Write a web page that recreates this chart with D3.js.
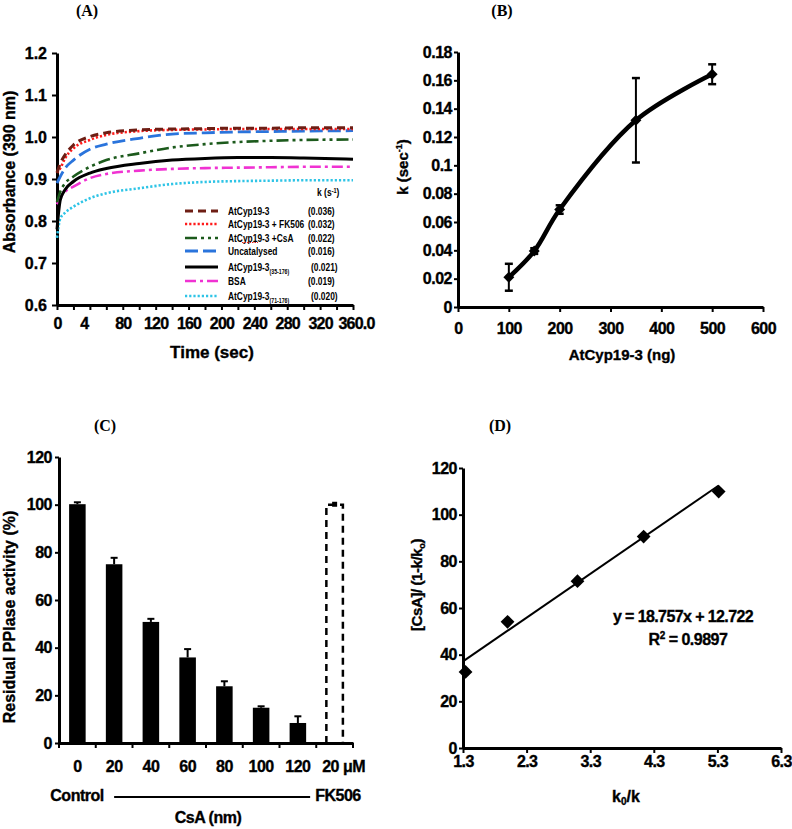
<!DOCTYPE html>
<html><head><meta charset="utf-8">
<script src="https://cdn.jsdelivr.net/npm/d3@7"></script>
<style>
body{margin:0;background:#fff}
text{font-family:"Liberation Sans",Arial,sans-serif;font-weight:bold;fill:#000}
</style>
</head><body><script>
// ---------- Panel A data ----------
const timeA = [0, 4, 10, 20, 40, 60, 100, 140, 180, 220, 260, 300, 360];
const aCyp      = [0.915,0.937,0.958,0.981,1.001,1.010,1.017,1.019,1.020,1.021,1.021,1.022,1.022];
const aCypFK    = [0.915,0.926,0.950,0.973,0.993,1.005,1.014,1.017,1.018,1.019,1.019,1.019,1.019];
const aCypCsA   = [0.845,0.870,0.890,0.906,0.929,0.945,0.961,0.975,0.983,0.988,0.991,0.993,0.994];
const aUncat    = [0.890,0.906,0.926,0.945,0.971,0.983,0.997,1.007,1.010,1.012,1.013,1.014,1.015];
const aCyp35    = [0.780,0.850,0.875,0.894,0.914,0.925,0.937,0.945,0.949,0.951,0.951,0.950,0.947];
const aBSA      = [0.840,0.855,0.870,0.882,0.902,0.912,0.920,0.924,0.926,0.927,0.928,0.929,0.929];
const aCyp71    = [0.760,0.806,0.820,0.834,0.854,0.866,0.878,0.888,0.893,0.895,0.896,0.897,0.897];
const legendMainA = ["AtCyp19-3","AtCyp19-3 + FK506","AtCyp19-3 +CsA","Uncatalysed","AtCyp19-3","BSA","AtCyp19-3"];
const legendSubA  = ["","","","","(35-176)","","(71-176)"];
const legendKA    = ["(0.036)","(0.032)","(0.022)","(0.016)","(0.021)","(0.019)","(0.020)"];
const yTicksA = [0.6,0.7,0.8,0.9,1.0,1.1,1.2];
const xTicksA = [0,20,40,60,80,100,120,140,160,180,200,220,240,260,280,300,320,340,360];
const xLabelsA = {0:"0",40:"4",80:"80",120:"120",160:"160",200:"200",240:"240",280:"280",320:"320",360:"360.0"};

// ---------- Panel B data ----------
const ngB  = [100,150,200,350,500];
const kB   = [0.021,0.0395,0.0688,0.1318,0.1643];
const errB = [0.0095,0.002,0.003,0.0298,0.007];
const yTicksB = [0,0.02,0.04,0.06,0.08,0.1,0.12,0.14,0.16,0.18];
const xTicksB = [0,100,200,300,400,500,600];

// ---------- Panel C data ----------
const catsC  = ["0","20","40","60","80","100","120","20 μM"];
const valsC  = [100.2,75.0,50.8,35.9,23.8,14.8,8.4,100];
const errsC  = [0.8,2.7,1.3,3.5,2.1,0.6,2.8,0.8];
const yTicksC = [0,20,40,60,80,100,120];

// ---------- Panel D data ----------
const xD = [1.34,2.0,3.1,4.14,5.32];
const yD = [32.6,54.1,71.5,90.6,109.9];
const slopeD = 18.757, interceptD = 12.722;
const fitRangeD = [1.3,5.32];
const xTicksD = [1.3,2.3,3.3,4.3,5.3,6.3];
const yTicksD = [0,20,40,60,80,100,120];

const svg = d3.select("body").append("svg").attr("width",792).attr("height",829);
const HEAVY = 0.35;

function styleAxis(g, fs, ls){
  g.select(".domain").attr("stroke","#000").attr("stroke-width",3);
  g.selectAll(".tick line").attr("stroke","#000").attr("stroke-width",2);
  g.selectAll(".tick text").attr("font-size",fs||16).attr("fill","#000")
    .attr("stroke","#000").attr("stroke-width",HEAVY)
    .attr("letter-spacing",ls||0)
    .attr("font-family",'"Liberation Sans",Arial,sans-serif').attr("font-weight","bold");
}
function heavy(sel){ return sel.attr("stroke","#000").attr("stroke-width",HEAVY); }
function panelLabel(t,x,y){
  svg.append("text").attr("x",x).attr("y",y).attr("text-anchor","middle")
    .attr("font-size",16).style("font-family",'"Liberation Serif","Times New Roman",serif').text(t);
}
function rotLabel(t,x,y,fs){
  return heavy(svg.append("text").attr("transform",`translate(${x},${y}) rotate(-90)`)
    .attr("text-anchor","middle").attr("font-size",fs).text(t));
}

// ===================== Panel A =====================
const xA = d3.scaleLinear().domain([0,360]).range([57,353]);
const yA = d3.scaleLinear().domain([0.6,1.2]).range([305,53]);
panelLabel("(A)",87,16);
const gAx = svg.append("g").attr("transform","translate(0,305)")
  .call(d3.axisBottom(xA).tickValues(xTicksA).tickSize(5).tickSizeOuter(0).tickPadding(8)
    .tickFormat(d=>xLabelsA[d]||""));
styleAxis(gAx,16,-0.8);
gAx.selectAll(".tick text").filter(d=>d===40).attr("dx",-6);
gAx.selectAll(".tick text").filter(d=>d===360).attr("dx",3);
const gAy = svg.append("g").attr("transform","translate(57,0)")
  .call(d3.axisLeft(yA).tickValues(yTicksA).tickSize(5).tickSizeOuter(0).tickPadding(5)
    .tickFormat(d3.format(".1f")));
styleAxis(gAy);
rotLabel("Absorbance (390 nm)",15,172,16);
heavy(svg.append("text").attr("x",212).attr("y",358).attr("text-anchor","middle").attr("font-size",17).text("Time (sec)"));

const seriesA = [
  {v:aCyp71, c:"#2EC4E6", d:"2.2,2", w:2.6},
  {v:aBSA,   c:"#F032D2", d:"11,4,3,4", w:2.6},
  {v:aCyp35, c:"#000000", d:null, w:3},
  {v:aCypCsA,c:"#1C5A1C", d:"12,4,3,4,3,4", w:2.6},
  {v:aUncat, c:"#2A74DC", d:"13,5", w:2.8},
  {v:aCypFK, c:"#FF1A1A", d:"2.2,2", w:2.6},
  {v:aCyp,   c:"#6E1E14", d:"8,5", w:3}
];
const lineA = d3.line().x((d,i)=>xA(timeA[i])).y(d=>yA(d)).curve(d3.curveMonotoneX);
seriesA.forEach(s=>{
  svg.append("path").attr("d",lineA(s.v)).attr("fill","none").attr("stroke",s.c)
    .attr("stroke-width",s.w).attr("stroke-dasharray",s.d);
});
// legend
const legOrder = [6,5,3,4,2,1,0];
const legY = [211,224,238,251,267,281,296];
const kh = svg.append("text").attr("transform","translate(317,196) scale(0.85,1)").attr("font-size",10);
kh.append("tspan").text("k (s");
kh.append("tspan").attr("font-size",6.5).attr("dy",-3).text("-1");
kh.append("tspan").attr("dy",3).text(")");
legendMainA.forEach((m,i)=>{
  const s = seriesA[legOrder[i]];
  svg.append("line").attr("x1",185).attr("x2",218).attr("y1",legY[i]).attr("y2",legY[i])
    .attr("stroke",s.c).attr("stroke-width",s.w).attr("stroke-dasharray",s.d);
  const t = svg.append("text").attr("transform",`translate(228,${legY[i]+4}) scale(0.8,1)`).attr("font-size",10.5);
  t.append("tspan").text(m);
  if(legendSubA[i]) t.append("tspan").attr("font-size",6.5).attr("dy",2.5).text(legendSubA[i]);
  svg.append("text").attr("transform",`translate(${i===4||i===6?311:308},${legY[i]+4}) scale(0.8,1)`).attr("font-size",10.5)
    .text(legendKA[i]);
});
svg.append("line").attr("x1",242).attr("x2",258).attr("y1",242.5).attr("y2",242.5)
  .attr("stroke","#E02020").attr("stroke-width",1).attr("stroke-dasharray","1.5,1");

// ===================== Panel B =====================
const xB = d3.scaleLinear().domain([0,600]).range([458,763]);
const yB = d3.scaleLinear().domain([0,0.18]).range([307,52]);
panelLabel("(B)",502,16);
const gBx = svg.append("g").attr("transform","translate(0,307)")
  .call(d3.axisBottom(xB).tickValues(xTicksB).tickSize(5).tickSizeOuter(0).tickPadding(11));
styleAxis(gBx,16,-0.5);
const gBy = svg.append("g").attr("transform","translate(458,0)")
  .call(d3.axisLeft(yB).tickValues(yTicksB).tickSize(4).tickSizeOuter(0).tickPadding(2)
    .tickFormat(d=>String(+d.toFixed(2))));
styleAxis(gBy,16,-0.5);
const kl = heavy(svg.append("text").attr("transform","translate(408,167) rotate(-90)")
  .attr("text-anchor","middle").attr("font-size",15));
kl.append("tspan").text("k (sec");
kl.append("tspan").attr("font-size",9).attr("dy",-6).text("-1");
kl.append("tspan").attr("dy",6).text(")");
heavy(svg.append("text").attr("x",622).attr("y",360).attr("text-anchor","middle").attr("font-size",15).text("AtCyp19-3 (ng)"));
const ptsB = ngB.map((x,i)=>({x,y:kB[i],e:errB[i]}));
svg.append("path").attr("d",d3.line().x(d=>xB(d.x)).y(d=>yB(d.y)).curve(d3.curveCatmullRom.alpha(0.5))(ptsB))
  .attr("fill","none").attr("stroke","#000").attr("stroke-width",4.5).attr("stroke-linejoin","round");
ptsB.forEach(p=>{
  const x=xB(p.x), y1=yB(p.y+p.e), y2=yB(p.y-p.e);
  svg.append("line").attr("x1",x).attr("x2",x).attr("y1",y1).attr("y2",y2).attr("stroke","#000").attr("stroke-width",2);
  [y1,y2].forEach(yy=>svg.append("line").attr("x1",x-4).attr("x2",x+4).attr("y1",yy).attr("y2",yy).attr("stroke","#000").attr("stroke-width",2.5));
  svg.append("path").attr("d",d3.symbol(d3.symbolSquare,60)()).attr("transform",`translate(${x},${yB(p.y)}) rotate(45)`).attr("fill","#000");
});

// ===================== Panel C =====================
const xC = d3.scaleBand().domain(catsC).range([59,353]).paddingInner(0.55).paddingOuter(0.275);
const yC = d3.scaleLinear().domain([0,120]).range([743,457]);
panelLabel("(C)",105,431);
const gCy = svg.append("g").attr("transform","translate(59,0)")
  .call(d3.axisLeft(yC).tickValues(yTicksC).tickSize(4).tickSizeOuter(0).tickPadding(3));
styleAxis(gCy,16,-0.5);
catsC.forEach((c,i)=>{
  const x=xC(c), w=xC.bandwidth(), top=yC(valsC[i]);
  if(i<catsC.length-1){
    svg.append("rect").attr("x",x).attr("y",top).attr("width",w).attr("height",yC(0)-top).attr("fill","#000");
    const cx=x+w/2, et=yC(valsC[i]+errsC[i]);
    svg.append("line").attr("x1",cx).attr("x2",cx).attr("y1",top).attr("y2",et).attr("stroke","#000").attr("stroke-width",2);
    svg.append("line").attr("x1",cx-3.5).attr("x2",cx+3.5).attr("y1",et).attr("y2",et).attr("stroke","#000").attr("stroke-width",2);
  } else {
    svg.append("path").attr("d",`M${x},${yC(0)}V${top}H${x+w}V${yC(0)}`)
      .attr("fill","none").attr("stroke","#000").attr("stroke-width",2.5).attr("stroke-dasharray","7,5");
    svg.append("rect").attr("x",x+w/2-2.5).attr("y",yC(valsC[i]+errsC[i])-1).attr("width",5).attr("height",5).attr("fill","#000");
  }
});
const gCx = svg.append("g").attr("transform","translate(0,743)")
  .call(d3.axisBottom(xC).tickSize(0).tickPadding(18));
styleAxis(gCx,16,-0.5);
gCx.selectAll(".tick text").filter(d=>d==="20 μM").attr("dx",9);
d3.range(catsC.length+1).forEach(i=>{
  const bx = 59 + i*xC.step();
  svg.append("line").attr("x1",bx).attr("x2",bx).attr("y1",743).attr("y2",748).attr("stroke","#000").attr("stroke-width",2);
});
rotLabel("Residual PPIase activity (%)",15,617,16);
heavy(svg.append("text").attr("x",77).attr("y",801).attr("text-anchor","middle").attr("font-size",16).attr("letter-spacing",-0.5).text("Control"));
heavy(svg.append("text").attr("x",338).attr("y",801).attr("text-anchor","middle").attr("font-size",16).attr("letter-spacing",-0.5).text("FK506"));
svg.append("line").attr("x1",xC("20")+xC.bandwidth()/2).attr("x2",xC("120")+xC.bandwidth()+4).attr("y1",797).attr("y2",797).attr("stroke","#000").attr("stroke-width",2.2);
heavy(svg.append("text").attr("x",208).attr("y",823).attr("text-anchor","middle").attr("font-size",16).attr("letter-spacing",-0.5).text("CsA (nm)"));

// ===================== Panel D =====================
const xDs = d3.scaleLinear().domain([1.3,6.3]).range([463,781]);
const yDs = d3.scaleLinear().domain([0,120]).range([748,468]);
panelLabel("(D)",500,431);
const gDx = svg.append("g").attr("transform","translate(0,748)")
  .call(d3.axisBottom(xDs).tickValues(xTicksD).tickSize(5).tickSizeOuter(0).tickPadding(3).tickFormat(d3.format(".1f")));
styleAxis(gDx,16,-0.6);
const gDy = svg.append("g").attr("transform","translate(463,0)")
  .call(d3.axisLeft(yDs).tickValues(yTicksD).tickSize(4).tickSizeOuter(0).tickPadding(2));
styleAxis(gDy,16,-0.5);
svg.append("line").attr("x1",xDs(fitRangeD[0])).attr("x2",xDs(fitRangeD[1]))
  .attr("y1",yDs(slopeD*fitRangeD[0]+interceptD)).attr("y2",yDs(slopeD*fitRangeD[1]+interceptD))
  .attr("stroke","#000").attr("stroke-width",2);
xD.forEach((x,i)=>{
  svg.append("path").attr("d",d3.symbol(d3.symbolSquare,95)()).attr("transform",`translate(${xDs(x)},${yDs(yD[i])}) rotate(45)`).attr("fill","#000");
});
heavy(svg.append("text").attr("x",683).attr("y",622).attr("text-anchor","middle").attr("font-size",16).attr("letter-spacing",-0.6)
  .text(`y = ${slopeD}x + ${interceptD}`));
const r2 = heavy(svg.append("text").attr("x",688).attr("y",645).attr("text-anchor","middle").attr("font-size",16).attr("letter-spacing",-0.5));
r2.append("tspan").text("R");
r2.append("tspan").attr("font-size",10).attr("dy",-6).text("2");
r2.append("tspan").attr("dy",6).text(" = 0.9897");
const dl = heavy(svg.append("text").attr("transform","translate(422,585) rotate(-90)").attr("text-anchor","middle").attr("font-size",15).attr("letter-spacing",-0.4));
dl.append("tspan").text("[CsA]/ (1-k/k");
dl.append("tspan").attr("font-size",9).attr("dy",3).text("o");
dl.append("tspan").attr("dy",-3).text(")");
const xl = heavy(svg.append("text").attr("x",626).attr("y",802).attr("text-anchor","middle").attr("font-size",16));
xl.append("tspan").text("k");
xl.append("tspan").attr("font-size",10).attr("dy",3).text("0");
xl.append("tspan").attr("dy",-3).text("/k");
</script></body></html>
